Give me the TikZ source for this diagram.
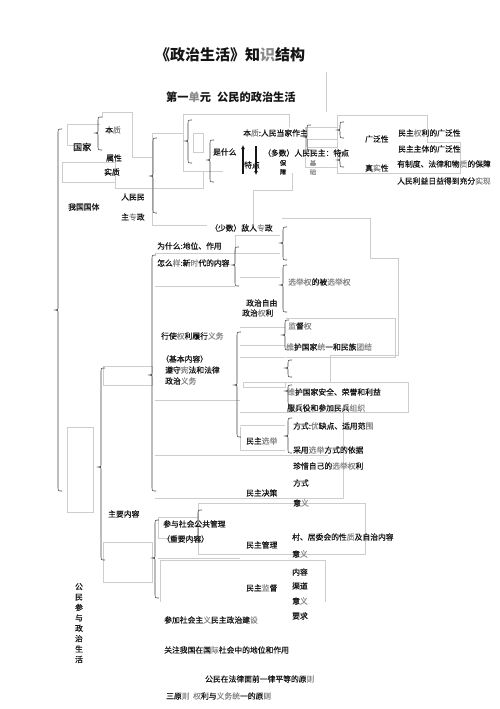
\documentclass[tikz,border=0pt]{standalone}
\usepackage{fontspec}
\setmainfont{Noto Sans CJK SC}[FakeBold=0.5]
\newfontfamily\ttlfont{Noto Sans CJK SC}
\usetikzlibrary{arrows.meta}
\definecolor{boxgray}{HTML}{CDCDCD}
\definecolor{ink}{HTML}{151515}
\definecolor{soft}{HTML}{8A8A8A}
\newcommand\gyc[1]{\textcolor{soft}{#1}}
\newcommand\mybrace[4]{\draw[br] (#1+4,#2) .. controls (#1,#2) .. (#1,#2+5) -- (#1,#3-4) .. controls (#1,#3) .. (#1-3,#3) .. controls (#1,#3) .. (#1,#3+4) -- (#1,#4-5) .. controls (#1,#4) .. (#1+4,#4);}
\begin{document}
\begin{tikzpicture}[x=1pt,y=-1pt,
  t/.style={anchor=west,inner sep=0pt,font=\fontsize{7.8}{9}\selectfont,text=ink},
  gb/.style={draw=boxgray,line width=0.5pt},
  br/.style={draw=ink!80,line width=0.6pt},
  arr/.style={draw=ink,line width=1.3pt,-{Latex[length=4pt,width=4pt]}}]
\fill[white] (0,0) rectangle (500,709);
\useasboundingbox (0,0) rectangle (500,709);

% ---------- light gray box outlines ----------
\draw[gb] (326,72) -- (326,112);
\draw[gb] (100,124) -- (67,124) -- (67,145) -- (75,145);
\draw[gb] (102,118) -- (102,112) -- (132,112) -- (132,157) -- (152,157);
\draw[gb] (62,162) rectangle (115,182);
\draw[gb] (115,167) -- (115,188) -- (203,188) -- (203,172);
\draw[gb] (183,133) -- (152,133) -- (152,225) -- (207,225);
\draw[gb] (289,127) -- (289,114) -- (183,114) -- (183,171) -- (223,171);
\draw[gb] (193,133) rectangle (203,152);
\draw[gb] (253,227) -- (253,190) -- (292,190) -- (292,173);
\draw[gb] (337,115) -- (427,115) -- (427,142) -- (460,142) -- (460,173) -- (337,173) -- cycle;
\draw[gb] (305,127) rectangle (337,167);
\draw[gb] (307,139) rectangle (337,147);
\draw[gb] (282,218) -- (370,218) -- (370,258) -- (398,258) -- (398,355) -- (330,355) -- (330,382);
\draw[gb] (235,235) -- (280,235);
\draw[gb] (235,235) -- (235,253);
\draw[gb] (155,253) -- (280,253);
\draw[gb] (240,277) -- (280,277);
\draw[gb] (155,286) -- (235,286);
\draw[gb] (286,318) -- (395,318) -- (395,357) -- (286,357);
\draw[gb] (240,327) -- (285,327);
\draw[gb] (240,345) -- (285,345);
\draw[gb] (240,357) -- (285,357);
\draw[gb] (243,382) rectangle (285,387);
\draw[gb] (103,366) rectangle (152,385);
\draw[gb] (155,400) -- (240,400);
\draw[gb] (285,382) -- (408,382) -- (408,412) -- (285,412);
\draw[gb] (240,412) -- (285,412);
\draw[gb] (240,425) -- (285,425);
\draw[gb] (240,427) -- (240,450) -- (285,450);
\draw[gb] (155,455) -- (328,455);
\draw[gb] (343,412) -- (343,498) -- (155,498);
\draw[gb] (67,427) rectangle (93,512);
\draw[gb] (198,503) rectangle (365,554);
\draw[gb] (158,517) rectangle (198,538);
\draw[gb] (103,542) rectangle (152,582);
\draw[gb] (158,558) -- (240,558);
\draw[gb] (160,602) -- (160,560) -- (325,560) -- (325,602);

% ---------- braces ----------
\mybrace{58}{129}{310}{491}
\mybrace{98}{117}{133}{150}
\mybrace{153}{138}{176}{213}
\mybrace{188}{120}{141}{163}
\mybrace{210}{140}{160}{182}
\mybrace{307}{125}{137}{150}
\mybrace{340}{122}{130}{138}
\mybrace{340}{152}{160}{167}
\mybrace{283}{227}{243}{260}
\mybrace{235}{247}{265}{286}
\mybrace{283}{265}{285}{312}
\mybrace{152}{255}{375}{491}
\mybrace{285}{320}{335}{350}
\mybrace{237}{332}{385}{437}
\mybrace{288}{360}{368}{377}
\mybrace{288}{385}{391}{405}
\mybrace{288}{418}{436}{453}
\mybrace{101}{368}{467}{560}
\mybrace{155}{520}{558}{598}
\mybrace{198}{510}{526}{542}

% ---------- titles ----------
\node[inner sep=0pt,font=\ttlfont\fontsize{15}{17}\selectfont\bfseries,text=ink] (title) at (230,55) {《政治生活》知\gyc{识}结构};
\node[t,font=\ttlfont\fontsize{11.2}{13}\selectfont\bfseries] (unitA) at (166,97) {第一\gyc{单}元};
\node[t,font=\ttlfont\fontsize{11.2}{13}\selectfont\bfseries] (unitB) at (217,97) {公民的政治生活};

% ---------- texts ----------
\node[t,font=\fontsize{9}{10}\selectfont] (guojia) at (73,147) {国家};
\node[t] (benzhi) at (105,130) {本\gyc{质}};
\node[t] (shuxing) at (106,158) {属性};
\node[t] (shizhi) at (104,172) {实质};
\node[t] (woguo) at (68,207) {我国国体};
\node[t] (rmm) at (121,197) {人民民};
\node[t] (zzz) at (121,217) {主\gyc{专}政};
\node[t] (bzr) at (243,133) {本\gyc{质}:人民当家作主};
\node[t] (shism) at (213,152) {是什么};
\coordinate (ua1) at (243,174);
\coordinate (ua2) at (243,145);
\coordinate (da1) at (256,146);
\coordinate (da2) at (256,175);
\draw[arr] (ua1) -- (ua2);
\draw[arr] (da1) -- (da2);
\node[t] (tedian) at (244,165) {特点};
\node[t] (duoshu) at (263,153) {（多数）人民民主：特点};
\node[anchor=north,inner sep=0pt,align=center,font=\fontsize{6.3}{9}\selectfont,text=ink] (baozhang) at (283,160) {保\\障};
\node[anchor=north,inner sep=0pt,align=center,font=\fontsize{6.3}{9}\selectfont,text=soft] (jichu) at (313,160) {基\\础};
\node[t] (guangfan) at (365,139) {广泛性};
\node[t] (zhenshi) at (365,168) {真\gyc{实}性};
\node[t] (r1) at (398,133) {民主\gyc{权}利的广泛性};
\node[t] (r2) at (398,149) {民主主体的广泛性};
\node[t] (r3) at (397,164) {有制度、法律和物\gyc{质}的保障};
\node[t] (r4) at (397,181) {人民利益日益得到充分\gyc{实现}};
\node[t] (shaoshu) at (210,228) {（少数）敌人\gyc{专}政};
\node[t] (weism) at (157,246) {为什么:地位、作用};
\node[t] (zmy) at (157,263) {怎么\gyc{样}:新\gyc{时}代的内容};
\node[t] (xjq) at (288,282) {\gyc{选举权}的被\gyc{选举权}};
\node[t] (zzzy) at (246,303) {政治自由};
\node[t] (zzql) at (242,313) {政治\gyc{权}利};
\node[t] (jdq) at (288,326) {\gyc{监}督\gyc{权}};
\node[t] (whty) at (286,347) {\gyc{维}护国家\gyc{统}一和民族\gyc{团结}};
\node[t] (xsql) at (161,336) {行使\gyc{权}利履行\gyc{义务}};
\node[t] (jbnr) at (161,359) {（基本内容）};
\node[t] (zsxf) at (165,370) {遵守\gyc{宪}法和法律};
\node[t] (zzyw) at (165,381) {政治\gyc{义务}};
\node[t] (whaq) at (287,392) {\gyc{维}护国家安全、荣誉和利益};
\node[t] (fby) at (287,408) {服兵役和参加民兵\gyc{组织}};
\node[t] (fs1) at (293,426) {方式:\gyc{优}缺点、适用范\gyc{围}};
\node[t] (caiyong) at (293,450) {采用\gyc{选举}方式的依据};
\node[t] (mzxj) at (246,441) {民主\gyc{选举}};
\node[t] (zhenxi) at (293,466) {珍惜自己的\gyc{选举权}利};
\node[t] (fs2) at (293,483) {方式};
\node[t] (mzjc) at (246,493) {民主决策};
\node[t] (yy1) at (293,503) {意\gyc{义}};
\node[t] (zhuyao) at (108,514) {主要内容};
\node[t] (canyu) at (163,524) {参与社会公共管理};
\node[t] (zhongyao) at (162,539) {（重要内容）};
\node[t] (mzgl) at (246,545) {民主管理};
\node[t] (cunju) at (292,537) {村、居委会的性\gyc{质}及自治内容};
\node[t] (yy2) at (292,554) {意\gyc{义}};
\node[t] (neirong) at (292,572) {内容};
\node[t] (qudao) at (292,586) {渠道};
\node[t] (yy3) at (292,601) {意\gyc{义}};
\node[t] (yaoqiu) at (292,616) {要求};
\node[t] (mzjd) at (246,588) {民主\gyc{监}督};
\node[t] (canjia) at (164,620) {参加社会主\gyc{义}民主政治建\gyc{设}};
\node[t] (guanzhu) at (164,650) {关注我国在国\gyc{际}社会中的地位和作用};
\node[t] (pingdeng) at (205,679) {公民在法律面前一律平等的原\gyc{则}};
\node[t] (sanyuan) at (166,696) {三原\gyc{则}};
\node[t] (tongyi) at (193,696) {\gyc{权}利与\gyc{义务统}一的原\gyc{则}};
\node[anchor=north,inner sep=0pt,align=center,font=\fontsize{7.8}{10.4}\selectfont,text=ink] (vert) at (79,583) {公\\民\\参\\与\\政\\治\\生\\活};
\end{tikzpicture}
\end{document}
